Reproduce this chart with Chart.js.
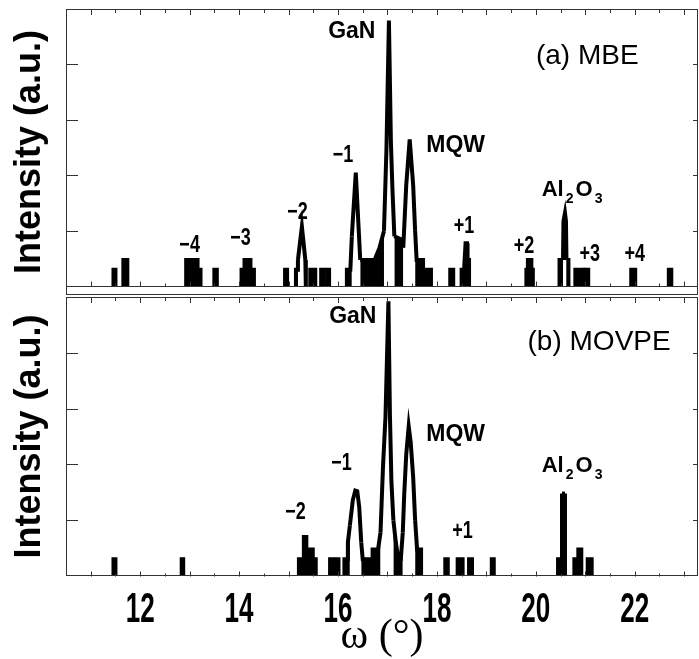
<!DOCTYPE html>
<html>
<head>
<meta charset="utf-8">
<script src="https://cdn.jsdelivr.net/npm/chart.js@4.4.0/dist/chart.umd.min.js"></script>
<style>
  html, body { margin: 0; padding: 0; background: #fff; }
  #wrap { position: relative; width: 699px; height: 659px; overflow: hidden; }
  .panel { position: absolute; left: 0; }
  #boxA { top: 0; width: 699px; height: 300px; }
  #boxB { top: 290px; width: 699px; height: 369px; }
</style>
</head>
<body>
<div id="wrap">
  <div class="panel" id="boxA"><canvas id="panelA" width="699" height="300"></canvas></div>
  <div class="panel" id="boxB"><canvas id="panelB" width="699" height="369"></canvas></div>
</div>
<script>
// (a) MBE scan: omega (deg) vertices and counts
const omegaA = [10.50,
  11.46, 11.46, 11.50, 11.50,
  11.66, 11.66, 11.74, 11.74,
  12.93, 12.93, 12.98, 12.98, 13.03, 13.03, 13.16, 13.16, 13.22, 13.22,
  13.50, 13.50, 13.55, 13.55,
  14.05, 14.05, 14.11, 14.11, 14.23, 14.23, 14.30, 14.30,
  14.93, 14.93, 14.97, 14.97,
  15.15, 15.15, 15.18, 15.19, 15.27, 15.34, 15.35, 15.35,
  15.44, 15.44, 15.54, 15.54,
  15.66, 15.66, 15.71, 15.71,
  15.78, 15.78, 15.82, 15.82,
  16.18, 16.18, 16.25, 16.28, 16.36, 16.41, 16.45, 16.74, 16.84, 16.93, 16.98, 17.03,
  17.07, 17.10, 17.14, 17.28, 17.32, 17.38, 17.45, 17.52, 17.56, 17.59, 17.72, 17.72, 17.88, 17.88,
  18.27, 18.27, 18.33, 18.33,
  18.50, 18.50, 18.55, 18.58, 18.61, 18.62, 18.65, 18.65,
  19.81, 19.81, 19.84, 19.84, 19.91, 19.91, 19.94, 19.94,
  20.48, 20.48, 20.55, 20.56, 20.59, 20.61, 20.62, 20.66, 20.66,
  20.80, 20.80, 20.95, 20.95,
  21.00, 21.00, 21.06, 21.06,
  21.93, 21.93, 22.01, 22.01,
  22.69, 22.69, 22.74, 22.74,
  23.28];
const countsA = [1,
  1, 2, 2, 1,
  1, 3, 3, 1,
  1, 3, 3, 2, 2, 3, 3, 2, 2, 1,
  1, 2, 2, 1,
  1, 2, 2, 3, 3, 2, 2, 1,
  1, 2, 2, 1,
  1, 2, 2, 3, 12, 3, 2, 1,
  1, 2, 2, 1,
  1, 2, 2, 1,
  1, 2, 2, 1,
  1, 2, 2, 8, 112, 15, 3, 3, 5, 10, 300, 62000,
  400, 60, 8, 7, 5, 67, 445, 67, 10, 3, 3, 2, 2, 1,
  1, 2, 2, 1,
  1, 2, 2, 6, 6, 3, 3, 1,
  1, 2, 2, 3, 3, 2, 2, 1,
  1, 3, 3, 15, 21, 15, 3, 3, 1,
  1, 2, 2, 1,
  1, 2, 2, 1,
  1, 2, 2, 1,
  1, 2, 2, 1,
  1];

// (b) MOVPE scan
const omegaB = [10.50,
  11.46, 11.46, 11.50, 11.50,
  12.84, 12.84, 12.87, 12.87,
  15.21, 15.21, 15.31, 15.31, 15.36, 15.36, 15.49, 15.49, 15.55, 15.55,
  15.84, 15.84, 15.89, 15.89,
  15.96, 15.96, 16.01, 16.01,
  16.13, 16.13, 16.20, 16.20, 16.24, 16.30, 16.35, 16.39, 16.43, 16.47, 16.50, 16.63, 16.63,
  16.70, 16.70, 16.81, 16.86, 16.91, 16.96, 17.02, 17.05, 17.08, 17.12, 17.17, 17.22, 17.27,
  17.31, 17.34, 17.38, 17.43, 17.47, 17.52, 17.56, 17.59, 17.60, 17.68, 17.68,
  18.17, 18.17, 18.22, 18.22,
  18.42, 18.42, 18.52, 18.52,
  18.65, 18.65, 18.71, 18.71,
  19.11, 19.11, 19.15, 19.15,
  20.45, 20.45, 20.53, 20.53, 20.59, 20.59,
  20.78, 20.78, 20.86, 20.86, 20.92, 20.92,
  21.05, 21.05, 21.13, 21.13,
  23.28];
const countsB = [1,
  1, 2, 2, 1,
  1, 2, 2, 1,
  1, 2, 2, 5, 5, 3, 3, 2, 2, 1,
  1, 2, 2, 1,
  1, 2, 2, 1,
  1, 2, 2, 4, 8, 23, 34, 33, 17, 4, 2, 2, 1,
  1, 3, 3, 6, 90, 700, 84000, 800, 50, 10, 4, 2, 2,
  6, 30, 150, 480, 250, 60, 10, 4, 3, 3, 1,
  1, 2, 2, 1,
  1, 2, 2, 1,
  1, 2, 2, 1,
  1, 2, 2, 1,
  1, 2, 2, 30, 30, 1,
  1, 2, 2, 3, 3, 1,
  1, 2, 2, 1,
  1];

const xTicks = [12, 14, 16, 18, 20, 22];
const yDecades = [10, 100, 1000, 10000];

// text labels inside the panels, anchored at (omega, counts)
const notesA = [
  { text: 'GaN', x: 16.28, y: 39000, kind: 'bold' },
  { text: '(a) MBE', x: 21.04, y: 14000, kind: 'plain' },
  { text: 'MQW', x: 18.38, y: 350, kind: 'bold' },
  { text: '\u22121', x: 16.10, y: 230, kind: 'num' },
  { text: '\u22122', x: 15.18, y: 22, kind: 'num' },
  { text: '\u22123', x: 14.03, y: 7.3, kind: 'num' },
  { text: '\u22124', x: 13.00, y: 5.4, kind: 'num' },
  { text: '+1', x: 18.55, y: 12.3, kind: 'num' },
  { text: '+2', x: 19.76, y: 5.2, kind: 'num' },
  { text: '+3', x: 21.09, y: 3.8, kind: 'num' },
  { text: '+4', x: 22.00, y: 3.8, kind: 'num' },
  { text: 'Al2O3', x: 20.12, y: 55, kind: 'formula' }
];
const notesB = [
  { text: 'GaN', x: 16.30, y: 45000, kind: 'bold' },
  { text: '(b) MOVPE', x: 21.28, y: 15300, kind: 'plain' },
  { text: 'MQW', x: 18.38, y: 343, kind: 'bold' },
  { text: '\u22121', x: 16.07, y: 104, kind: 'num' },
  { text: '\u22122', x: 15.14, y: 13.7, kind: 'num' },
  { text: '+1', x: 18.52, y: 6.3, kind: 'num' },
  { text: 'Al2O3', x: 20.12, y: 95, kind: 'formula' }
];

const SANS = "'Liberation Sans', Arial, sans-serif";
const FONTS = {
  bold: 'bold 23px ' + SANS,
  plain: '28px ' + SANS,
  num: 'bold 24px ' + SANS,
  formula: 'bold 22px ' + SANS,
  sub: 'bold 14px ' + SANS,
  tick: 'bold 42px ' + SANS
};

function toPoints(xs, ys) {
  return xs.map((x, i) => ({ x: x, y: ys[i] }));
}

// condensed text: the figure uses a narrow bold face
function drawNarrow(ctx, text, px, py, font, sx) {
  ctx.save();
  ctx.font = font;
  ctx.textAlign = 'center';
  ctx.translate(px, py);
  ctx.scale(sx, 1);
  ctx.fillText(text, 0, 0);
  ctx.restore();
}

function drawFormula(ctx, text, px, py) {
  // Al2O3 with subscript digits
  let cx = px;
  for (const ch of text) {
    const isSub = /[0-9]/.test(ch);
    ctx.font = isSub ? FONTS.sub : FONTS.formula;
    ctx.fillText(ch, cx + (isSub ? 2 : 0), isSub ? py + 9 : py);
    cx += ctx.measureText(ch).width + (isSub ? 4 : 0);
  }
}

/**
 * Frame, inward ticks, baseline and panel labels
 */
const framePlugin = {
  id: 'frame',
  afterDatasetsDraw(chart, args, opts) {
    const { ctx, chartArea: a, scales: { x, y } } = chart;
    const base = Math.round(y.getPixelForValue(1)) + 0.5;
    ctx.save();
    ctx.strokeStyle = '#333';
    ctx.lineWidth = 1;
    ctx.strokeRect(a.left + 0.5, a.top + 0.5, a.right - a.left - 1, a.bottom - a.top - 1);

    ctx.beginPath();
    if (base < a.bottom - 1) {
      ctx.moveTo(a.left, base);
      ctx.lineTo(a.right, base);
    }
    for (let v = 11; v <= 23; v += 0.5) {
      const px = Math.round(x.getPixelForValue(v)) + 0.5;
      const len = Number.isInteger(v) ? 6 : 4;
      ctx.moveTo(px, a.top);
      ctx.lineTo(px, a.top + len);
      ctx.moveTo(px, base);
      ctx.lineTo(px, base - len + 1);
    }
    yDecades.forEach(d => {
      const py = Math.round(y.getPixelForValue(d)) + 0.5;
      ctx.moveTo(a.left, py);
      ctx.lineTo(a.left + 12, py);
      ctx.moveTo(a.right, py);
      ctx.lineTo(a.right - 5, py);
    });
    ctx.stroke();

    ctx.fillStyle = '#000';
    ctx.textBaseline = 'middle';
    opts.notes.forEach(n => {
      const px = x.getPixelForValue(n.x);
      const py = y.getPixelForValue(n.y);
      if (n.kind === 'formula') {
        ctx.textAlign = 'left';
        drawFormula(ctx, n.text, px, py);
      } else if (n.kind === 'num') {
        drawNarrow(ctx, n.text, px, py, FONTS.num, 0.75);
      } else {
        ctx.textAlign = 'center';
        ctx.font = FONTS[n.kind];
        ctx.fillText(n.text, px, py);
      }
    });

    // omega tick labels under the lower panel
    if (opts.xLabels) {
      xTicks.forEach(v => {
        drawNarrow(ctx, String(v), x.getPixelForValue(v), a.bottom + 34, FONTS.tick, 0.62);
      });
    }
    ctx.restore();
  }
};

function makePanel(canvasId, omega, counts, yMin, notes, isBottom, pad) {
  const ctx = document.getElementById(canvasId);
  return new Chart(ctx, {
    type: 'line',
    data: {
      datasets: [{
        data: toPoints(omega, counts),
        borderColor: '#000',
        backgroundColor: '#000',
        borderWidth: 4,
        pointRadius: 0,
        tension: 0,
        fill: { value: 1 },
        segment: {
          // baseline runs stay hidden, flat tops and low-count noise are drawn solid
          borderColor: c => (c.p0.parsed.y <= 1 && c.p1.parsed.y <= 1) ? 'rgba(0,0,0,0)' : '#000',
          backgroundColor: c => (c.p0.parsed.y === c.p1.parsed.y || (c.p0.parsed.y <= 10 && c.p1.parsed.y <= 10)) ? '#000' : 'rgba(0,0,0,0)'
        }
      }]
    },
    options: {
      responsive: false,
      animation: false,
      events: [],
      layout: { padding: pad },
      plugins: {
        legend: { display: false },
        tooltip: { enabled: false },
        frame: { notes: notes, xLabels: isBottom }
      },
      scales: {
        x: {
          type: 'linear',
          min: 10.5,
          max: 23.28,
          grid: { display: false },
          border: { display: false },
          afterBuildTicks: s => { s.ticks = xTicks.map(v => ({ value: v })); },
          ticks: { display: false },
          title: {
            display: isBottom,
            text: '\u03c9 (\u00b0)',
            color: '#000',
            padding: { top: 0, bottom: 1 },
            font: { family: "'Liberation Serif', 'Times New Roman', serif", size: 42, lineHeight: 1 }
          },
          afterFit: s => { s.height = isBottom ? 83 : 0; }
        },
        y: {
          type: 'logarithmic',
          min: yMin,
          max: 1e5,
          grid: { display: false },
          border: { display: false },
          ticks: { display: false },
          title: {
            display: true,
            text: 'Intensity (a.u.)',
            color: '#000',
            padding: { top: 12, bottom: 0 },
            font: { family: SANS, size: 36, weight: 'bold', lineHeight: 1 }
          },
          afterFit: s => { s.width = 66; }
        }
      }
    },
    plugins: [framePlugin]
  });
}

document.addEventListener('DOMContentLoaded', function() {
  makePanel('panelA', omegaA, countsA, 0.748, notesA, false, { top: 9, right: 1, bottom: 5, left: 0 });
  makePanel('panelB', omegaB, countsB, 1, notesB, true, { top: 7, right: 1, bottom: 0, left: 0 });
});
</script>
</body>
</html>
